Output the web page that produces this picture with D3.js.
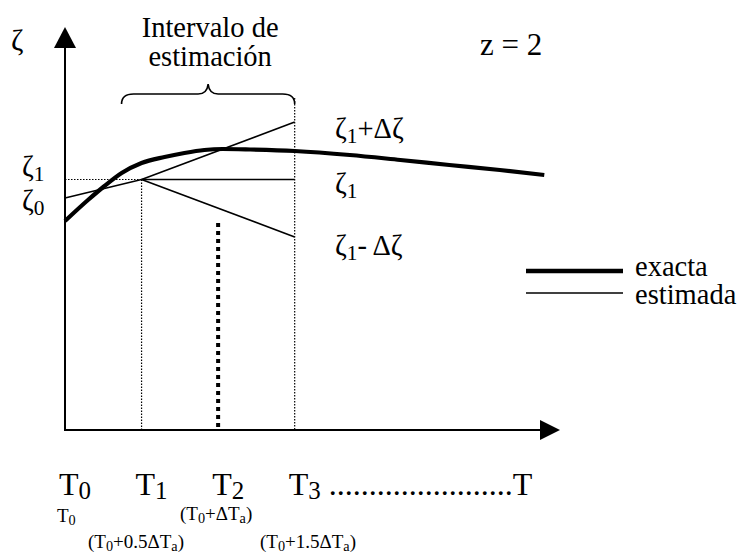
<!DOCTYPE html>
<html>
<head>
<meta charset="utf-8">
<script src="https://cdn.jsdelivr.net/npm/d3@7/dist/d3.min.js"></script>
<style>
  html, body { margin: 0; padding: 0; background: #fff; }
  svg { display: block; }
  text { font-family: "Liberation Serif", "Times New Roman", serif; fill: #000; }
</style>
</head>
<body>
<svg id="chart" width="739" height="554"></svg>
<script>
// Time positions in units of ΔTa (T0 .. T3)
const timeNames = ["T0", "T1", "T2", "T3"];
const timeValues = [0, 0.5, 1.0, 1.5];

// Exact evolution of ζ over time: [t, ζ]
const exactT = [0, 0.15, 0.25, 0.37, 0.5, 0.65, 0.78, 0.91, 1.03, 1.21, 1.5, 1.86, 2.19, 2.51, 2.84, 3.13];
const exactZ = [2.09, 2.30, 2.43, 2.57, 2.67, 2.73, 2.77, 2.80, 2.81, 2.805, 2.79, 2.75, 2.70, 2.65, 2.60, 2.55];

// Estimated values
const zeta0 = 2.32;
const zeta1 = 2.505;
const deltaZeta = 0.575;

const svg = d3.select("#chart");
const x = d3.scaleLinear().domain([0, 3.2]).range([65, 555]);
const y = d3.scaleLinear().domain([0, 4]).range([430, 30]);

const line = d3.line().x(d => x(d[0])).y(d => y(d[1]));

// text with subscript parts, parts = [[str, isSub], ...]
function richText(g, px, py, parts, size, anchor, subScale, subShift) {
  subScale = subScale || 0.75;
  subShift = subShift || 0.18;
  const t = g.append("text").attr("x", px).attr("y", py)
    .attr("font-size", size).attr("text-anchor", anchor || "start");
  let shifted = false;
  parts.forEach(([s, sub]) => {
    const ts = t.append("tspan").text(s);
    if (sub && !shifted) { ts.attr("dy", size * subShift).attr("font-size", size * subScale); shifted = true; }
    else if (sub) { ts.attr("font-size", size * subScale); }
    else if (!sub && shifted) { ts.attr("dy", -size * subShift); shifted = false; }
  });
  return t;
}

// dotted guides
svg.append("line").attr("x1", x(0)).attr("x2", x(timeValues[1]))
  .attr("y1", y(zeta1)).attr("y2", y(zeta1))
  .attr("stroke", "#000").attr("stroke-width", 1.2).attr("stroke-dasharray", "1.5,1.5");
svg.append("line").attr("x1", x(timeValues[1])).attr("x2", x(timeValues[1]))
  .attr("y1", y(zeta1)).attr("y2", y(0))
  .attr("stroke", "#000").attr("stroke-width", 1.2).attr("stroke-dasharray", "1.5,1.5");
svg.append("line").attr("x1", x(timeValues[3])).attr("x2", x(timeValues[3]))
  .attr("y1", 98).attr("y2", y(0))
  .attr("stroke", "#000").attr("stroke-width", 1.2).attr("stroke-dasharray", "1.5,1.5");
// heavy dotted marker at T2
svg.append("line").attr("x1", x(timeValues[2])).attr("x2", x(timeValues[2]))
  .attr("y1", y(2.07)).attr("y2", y(0))
  .attr("stroke", "#000").attr("stroke-width", 4).attr("stroke-dasharray", "4,4");

// estimated lines
const estimated = [
  [[0, zeta0], [timeValues[1], zeta1]],
  [[timeValues[1], zeta1], [timeValues[3], zeta1 + deltaZeta]],
  [[timeValues[1], zeta1], [timeValues[3], zeta1]],
  [[timeValues[1], zeta1], [timeValues[3], zeta1 - deltaZeta]]
];
estimated.forEach(seg => {
  svg.append("path").attr("d", line(seg)).attr("fill", "none")
    .attr("stroke", "#000").attr("stroke-width", 1.6);
});

// exact curve
const exactPts = exactT.map((t, i) => [t, exactZ[i]]);
svg.append("path").attr("d", line.curve(d3.curveMonotoneX)(exactPts))
  .attr("fill", "none").attr("stroke", "#000").attr("stroke-width", 4.2)
  .attr("stroke-linecap", "butt");
line.curve(d3.curveLinear);

// axes
const axisColor = "#000";
svg.append("line").attr("x1", x(0)).attr("x2", x(0)).attr("y1", y(0)).attr("y2", 45)
  .attr("stroke", axisColor).attr("stroke-width", 2);
svg.append("path").attr("d", `M${x(0) - 11},48 L${x(0)},27 L${x(0) + 11},48 Z`).attr("fill", axisColor);
svg.append("line").attr("x1", x(0) - 1).attr("x2", 542).attr("y1", y(0)).attr("y2", y(0))
  .attr("stroke", axisColor).attr("stroke-width", 2);
svg.append("path").attr("d", `M540,${y(0) - 10} L560,${y(0)} L540,${y(0) + 10} Z`).attr("fill", axisColor);

// brace over the estimation interval
const bx0 = x(timeValues[1]) - 20, bx1 = x(timeValues[3]), bm = (bx0 + bx1) / 2;
const by = 94;
svg.append("path")
  .attr("d", `M${bx0},104 Q${bx0},${by} ${bx0 + 12},${by} L${bm - 10},${by} Q${bm - 1},${by} ${bm},${by - 10} Q${bm + 1},${by} ${bm + 10},${by} L${bx1 - 12},${by} Q${bx1},${by} ${bx1},104`)
  .attr("fill", "none").attr("stroke", "#000").attr("stroke-width", 1.6);

const F = 28.5;
svg.append("text").attr("x", bm + 2).attr("y", 37).attr("font-size", F).attr("text-anchor", "middle").text("Intervalo de");
svg.append("text").attr("x", bm + 2).attr("y", 66).attr("font-size", F).attr("text-anchor", "middle").text("estimación");

// axis label and parameter
svg.append("text").attr("x", 11).attr("y", 50).attr("font-size", 30).text("ζ");
svg.append("text").attr("x", 480).attr("y", 55).attr("font-size", 31).text("z = 2");

// left ζ labels
richText(svg, 22, 176, [["ζ", false], ["1", true]], F);
richText(svg, 22, 210, [["ζ", false], ["0", true]], F);

// right ζ labels
richText(svg, 335, 138, [["ζ", false], ["1", true], ["+Δζ", false]], F);
richText(svg, 335, 193, [["ζ", false], ["1", true]], F);
richText(svg, 335, 255, [["ζ", false], ["1", true], ["- Δζ", false]], F);

// legend
const legend = svg.append("g");
legend.append("line").attr("x1", 526).attr("x2", 623).attr("y1", 271).attr("y2", 271)
  .attr("stroke", "#000").attr("stroke-width", 4.5);
legend.append("line").attr("x1", 526).attr("x2", 623).attr("y1", 293).attr("y2", 293)
  .attr("stroke", "#000").attr("stroke-width", 1.6);
legend.append("text").attr("x", 635).attr("y", 276).attr("font-size", F).text("exacta");
legend.append("text").attr("x", 635).attr("y", 304).attr("font-size", F).text("estimada");

// time labels
const TF = 32;
timeNames.forEach((n, i) => {
  const t = richText(svg, x(timeValues[i]) - 6, 495, [[n[0], false], [n.slice(1), true]], TF, "start", 0.78, 0.12);
  if (i === 3) t.append("tspan").attr("dy", -TF * 0.12).attr("font-size", TF).text(" .......................T");
});

// time definitions in terms of ΔTa
const S = 19;
richText(svg, 57, 522, [["T", false], ["0", true]], S);
richText(svg, 180, 520, [["(T", false], ["0", true], ["+ΔT", false], ["a", true], [")", false]], S);
richText(svg, 88, 548, [["(T", false], ["0", true], ["+0.5ΔT", false], ["a", true], [")", false]], S);
richText(svg, 260, 548, [["(T", false], ["0", true], ["+1.5ΔT", false], ["a", true], [")", false]], S);
</script>
</body>
</html>
